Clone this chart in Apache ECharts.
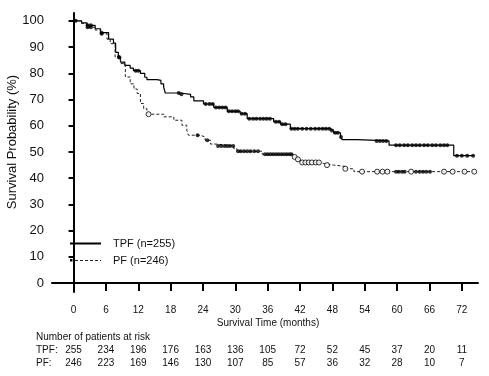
<!DOCTYPE html>
<html><head><meta charset="utf-8">
<script src="https://cdn.jsdelivr.net/npm/echarts@6/dist/echarts.min.js"></script>
<style>html,body{margin:0;padding:0;background:#fff}#c{width:489px;height:376px}</style>
</head><body><div id="c"></div>
<script>
// ---- data ----
const xTicks = [0, 6, 12, 18, 24, 30, 36, 42, 48, 54, 60, 66, 72];
const yTicks = [0, 10, 20, 30, 40, 50, 60, 70, 80, 90, 100];
const tpfRisk = [255, 234, 196, 176, 163, 136, 105, 72, 52, 45, 37, 20, 11];
const pfRisk = [246, 223, 169, 146, 130, 107, 85, 57, 36, 32, 28, 10, 7];
const seriesNames = ['TPF (n=255)', 'PF (n=246)'];

const tpfCurve = [[0,100],[1.5,99.2],[2.5,98.3],[4,97],[5,95.5],[6.5,93],[7.4,91.5],[7.8,88],[8.3,86],[8.7,84.3],[9.5,83],[10.5,82],[11.1,81],[12.4,80],[13.2,78.5],[13.6,77.6],[15.5,77.3],[16.2,76],[16.7,74.8],[17,72.5],[19.8,72],[21.7,71],[22.3,69.5],[24.1,68.3],[26,67],[28.5,65.5],[30.9,64.6],[32.2,62.7],[37.1,61.5],[38.4,60.6],[40.2,58.9],[47.6,58.2],[48.2,57.3],[49.5,55.7],[49.8,54.7],[52.6,54.2],[58.5,52.6],[70.5,48.6],[74.2,48.6]];
const pfCurve = [[0,100],[1.5,99],[2.5,97.6],[4,96.5],[5,95.1],[6.2,93],[6.8,91.3],[7.7,86.2],[8.7,83.7],[9.6,78.6],[10.5,76],[11.2,74],[11.8,72.3],[12.4,68.5],[13,66.5],[13.6,65.3],[13.9,64.4],[16.7,63.4],[18.6,62.1],[20.1,60.2],[21,58.3],[21.3,56.4],[23.5,55.7],[24.4,54.5],[25.4,53],[26.6,52.3],[29.7,51.3],[30.3,50.3],[35,49.1],[40.8,48.1],[41.5,47.2],[42.1,46],[45.8,45.6],[46.4,45],[48.2,44.5],[50.4,43.6],[52,42.5],[74.2,42.5]];

const tpfCensor = [0.4,2.6,3.2,5.2,8.5,11.5,12,19.5,20,24.5,25.2,25.8,26.4,27,27.6,28.2,28.8,29.4,30,30.5,31.2,31.8,32.6,33.3,33.9,34.6,35.2,35.8,36.4,37.5,38.1,38.7,39.3,40.4,41,41.6,42.4,43.2,44,44.8,45.5,46.2,46.8,47.4,47.9,48.5,49,49.6,56.2,56.8,57.4,58,59.8,60.5,61.3,62,62.8,63.5,64.2,65,65.7,66.5,67.2,68,68.7,69.3,71.1,72,73,74.1];
const pfCensorFilled = [2.6,3.2,5.2,8.4,23,24.8,26.8,27.4,28,28.5,29,29.6,30.5,31,31.6,32.2,32.8,33.5,34.2,35.5,36,36.5,37,37.5,38,38.5,39,39.5,40,40.4,59.8,60.3,60.9,61.4,63.5,64.2,64.8,65.4,66.1];
const pfCensorOpen = [13.9,41,41.6,42.4,43,43.6,44.2,44.9,45.5,47,50.4,53.5,56.3,57.3,58.2,62.6,68.7,70.3,72.5,74.3];

// place censor marks on the curve (step lookup)
function onCurve(curve, times) {
  return times.map(t => {
    let s = curve[0][1];
    for (const p of curve) { if (p[0] <= t) s = p[1]; else break; }
    return [t, s];
  });
}

const FONT = "'Liberation Sans', Arial, sans-serif";
const chart = echarts.init(document.getElementById('c'), null, {renderer: 'canvas'});

function riskAxis(arr, margin) {
  return {
    type: 'value', gridIndex: 0, position: 'bottom', min: -4, max: 75,
    axisLine: {show: false}, axisTick: {show: false}, splitLine: {show: false},
    axisLabel: {customValues: xTicks, margin: margin, fontSize: 10, color: '#111', fontFamily: FONT,
      formatter: v => String(arr[xTicks.indexOf(v)])}
  };
}
function txt(x, y, s, size, align) {
  return {type: 'text', x: x, y: y, style: {text: s, font: size + 'px ' + FONT, fill: '#111', align: align || 'left', verticalAlign: 'middle'}};
}

chart.setOption({
  animation: false,
  backgroundColor: '#fff',
  grid: {left: 52, right: 11, top: 13, bottom: 84, containLabel: false},
  xAxis: [
    {
      type: 'value', min: -4, max: 75, position: 'bottom',
      axisLine: {show: true, lineStyle: {color: '#000', width: 2}},
      axisTick: {show: true, customValues: xTicks, length: 8, lineStyle: {color: '#000', width: 2}},
      axisLabel: {customValues: xTicks, margin: 13, fontSize: 10, color: '#111', fontFamily: FONT},
      splitLine: {show: false}
    },
    riskAxis(tpfRisk, 53),
    riskAxis(pfRisk, 66)
  ],
  yAxis: {
    type: 'value', min: -3.4, max: 103,
    axisLine: {show: true, lineStyle: {color: '#000', width: 2}},
    axisTick: {show: true, customValues: yTicks, length: 5, lineStyle: {color: '#000', width: 2}},
    axisLabel: {customValues: yTicks, margin: 8, fontSize: 13, color: '#111', fontFamily: FONT},
    splitLine: {show: false}
  },
  graphic: [
    {type: 'text', x: 12, y: 142, rotation: Math.PI / 2,
      style: {text: 'Survival Probability (%)', font: '13px ' + FONT, fill: '#111', align: 'center', verticalAlign: 'middle'}},
    txt(268, 323, 'Survival Time (months)', 10, 'center'),
    txt(36, 337, 'Number of patients at risk', 10),
    txt(36, 350.5, 'TPF:', 10),
    txt(36, 363.5, 'PF:', 10),
    // legend
    {type: 'line', shape: {x1: 70, y1: 243.5, x2: 101, y2: 243.5}, style: {stroke: '#000', lineWidth: 2}},
    {type: 'rect', shape: {x: 70, y: 259, width: 2.5, height: 2.5}, style: {fill: '#000'}},
    {type: 'line', shape: {x1: 75, y1: 260.5, x2: 101, y2: 260.5}, style: {stroke: '#222', lineWidth: 1.2, lineDash: [3, 2]}},
    txt(113, 243.5, seriesNames[0], 11),
    txt(113, 260.5, seriesNames[1], 11)
  ],
  series: [
    {name: seriesNames[0], type: 'line', step: 'end', data: tpfCurve, symbol: 'none',
      lineStyle: {color: '#000', width: 1.2}, z: 2, silent: true},
    {name: seriesNames[1], type: 'line', step: 'end', data: pfCurve, symbol: 'none',
      lineStyle: {color: '#222', width: 1, type: [3, 2]}, z: 2, silent: true},
    {name: 'tpfCens', type: 'scatter', data: onCurve(tpfCurve, tpfCensor), symbol: 'circle', symbolSize: 4,
      itemStyle: {color: '#000'}, z: 3, silent: true},
    {name: 'pfCensF', type: 'scatter', data: onCurve(pfCurve, pfCensorFilled), symbol: 'circle', symbolSize: 4,
      itemStyle: {color: '#000'}, z: 3, silent: true},
    {name: 'pfCensO', type: 'scatter', data: onCurve(pfCurve, pfCensorOpen), symbol: 'circle', symbolSize: 5,
      itemStyle: {color: '#fff', borderColor: '#000', borderWidth: 1}, z: 3, silent: true}
  ]
});
</script></body></html>
